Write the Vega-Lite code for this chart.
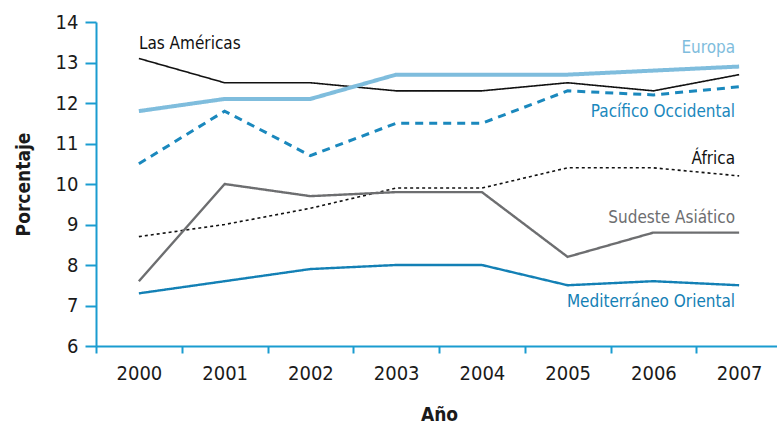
{
  "$schema": "https://vega.github.io/schema/vega-lite/v6.json",
  "width": 686,
  "height": 324,
  "autosize": {"type": "none"},
  "padding": {"left": 96, "top": 22, "right": 0, "bottom": 83},
  "background": "white",
  "config": {
    "view": {"stroke": null},
    "font": "DejaVu Sans Condensed",
    "axis": {"labelFont": "DejaVu Sans Condensed", "titleFont": "DejaVu Sans Condensed"}
  },
  "datasets": {
    "series": [
      {"year": "2000", "region": "Las Américas", "value": 13.1},
      {"year": "2001", "region": "Las Américas", "value": 12.5},
      {"year": "2002", "region": "Las Américas", "value": 12.5},
      {"year": "2003", "region": "Las Américas", "value": 12.3},
      {"year": "2004", "region": "Las Américas", "value": 12.3},
      {"year": "2005", "region": "Las Américas", "value": 12.5},
      {"year": "2006", "region": "Las Américas", "value": 12.3},
      {"year": "2007", "region": "Las Américas", "value": 12.7},
      {"year": "2000", "region": "Europa", "value": 11.8},
      {"year": "2001", "region": "Europa", "value": 12.1},
      {"year": "2002", "region": "Europa", "value": 12.1},
      {"year": "2003", "region": "Europa", "value": 12.7},
      {"year": "2004", "region": "Europa", "value": 12.7},
      {"year": "2005", "region": "Europa", "value": 12.7},
      {"year": "2006", "region": "Europa", "value": 12.8},
      {"year": "2007", "region": "Europa", "value": 12.9},
      {"year": "2000", "region": "Pacífico Occidental", "value": 10.5},
      {"year": "2001", "region": "Pacífico Occidental", "value": 11.8},
      {"year": "2002", "region": "Pacífico Occidental", "value": 10.7},
      {"year": "2003", "region": "Pacífico Occidental", "value": 11.5},
      {"year": "2004", "region": "Pacífico Occidental", "value": 11.5},
      {"year": "2005", "region": "Pacífico Occidental", "value": 12.3},
      {"year": "2006", "region": "Pacífico Occidental", "value": 12.2},
      {"year": "2007", "region": "Pacífico Occidental", "value": 12.4},
      {"year": "2000", "region": "África", "value": 8.7},
      {"year": "2001", "region": "África", "value": 9.0},
      {"year": "2002", "region": "África", "value": 9.4},
      {"year": "2003", "region": "África", "value": 9.9},
      {"year": "2004", "region": "África", "value": 9.9},
      {"year": "2005", "region": "África", "value": 10.4},
      {"year": "2006", "region": "África", "value": 10.4},
      {"year": "2007", "region": "África", "value": 10.2},
      {"year": "2000", "region": "Sudeste Asiático", "value": 7.6},
      {"year": "2001", "region": "Sudeste Asiático", "value": 10.0},
      {"year": "2002", "region": "Sudeste Asiático", "value": 9.7},
      {"year": "2003", "region": "Sudeste Asiático", "value": 9.8},
      {"year": "2004", "region": "Sudeste Asiático", "value": 9.8},
      {"year": "2005", "region": "Sudeste Asiático", "value": 8.2},
      {"year": "2006", "region": "Sudeste Asiático", "value": 8.8},
      {"year": "2007", "region": "Sudeste Asiático", "value": 8.8},
      {"year": "2000", "region": "Mediterráneo Oriental", "value": 7.3},
      {"year": "2001", "region": "Mediterráneo Oriental", "value": 7.6},
      {"year": "2002", "region": "Mediterráneo Oriental", "value": 7.9},
      {"year": "2003", "region": "Mediterráneo Oriental", "value": 8.0},
      {"year": "2004", "region": "Mediterráneo Oriental", "value": 8.0},
      {"year": "2005", "region": "Mediterráneo Oriental", "value": 7.5},
      {"year": "2006", "region": "Mediterráneo Oriental", "value": 7.6},
      {"year": "2007", "region": "Mediterráneo Oriental", "value": 7.5}
    ],
    "labels": [
      {"year": "2000", "region": "Las Américas", "value": 13.45, "side": "left"},
      {"year": "2007", "region": "Europa", "value": 13.37, "side": "right"},
      {"year": "2007", "region": "Pacífico Occidental", "value": 11.78, "side": "right"},
      {"year": "2007", "region": "África", "value": 10.62, "side": "right"},
      {"year": "2007", "region": "Sudeste Asiático", "value": 9.15, "side": "right"},
      {"year": "2007", "region": "Mediterráneo Oriental", "value": 7.08, "side": "right"}
    ]
  },
  "encoding": {
    "x": {
      "field": "year", "type": "ordinal",
      "scale": {"type": "band", "paddingInner": 0, "paddingOuter": 0},
      "axis": {
        "title": "Año", "tickBand": "extent", "labelAngle": 0,
        "domainColor": "#1a9cd0", "tickColor": "#1a9cd0", "domainWidth": 2, "tickWidth": 2,
        "tickSize": 7, "labelPadding": 10, "labelFontSize": 20, "labelColor": "#1a1a1a",
        "titleFontSize": 19, "titleFontWeight": "bold", "titleColor": "#1a1a1a", "titlePadding": 22,
        "grid": false
      }
    },
    "y": {
      "field": "value", "type": "quantitative",
      "scale": {"domain": [6, 14], "nice": false, "zero": false},
      "axis": {
        "title": "Porcentaje", "values": [6, 7, 8, 9, 10, 11, 12, 13, 14],
        "domainColor": "#1a9cd0", "tickColor": "#1a9cd0", "domainWidth": 2, "tickWidth": 2,
        "tickSize": 11, "labelPadding": 7, "labelFontSize": 20, "labelColor": "#1a1a1a",
        "titleFontSize": 19, "titleFontWeight": "bold", "titleColor": "#1a1a1a", "titlePadding": 22,
        "grid": false
      }
    }
  },
  "layer": [
    {
      "data": {"name": "series"},
      "mark": {"type": "line", "clip": false},
      "encoding": {
        "detail": {"field": "region"},
        "color": {
          "field": "region", "type": "nominal", "legend": null,
          "scale": {
            "domain": ["Las Américas", "Europa", "Pacífico Occidental", "África", "Sudeste Asiático", "Mediterráneo Oriental"],
            "range": ["#111111", "#7fbddd", "#1a88bd", "#111111", "#6d6e70", "#1380b5"]
          }
        },
        "strokeDash": {
          "field": "region", "type": "nominal", "legend": null,
          "scale": {
            "domain": ["Las Américas", "Europa", "Pacífico Occidental", "África", "Sudeste Asiático", "Mediterráneo Oriental"],
            "range": [[1, 0], [1, 0], [8, 6], [3, 3], [1, 0], [1, 0]]
          }
        },
        "strokeWidth": {
          "field": "region", "type": "nominal", "legend": null,
          "scale": {
            "type": "ordinal",
            "domain": ["Las Américas", "Europa", "Pacífico Occidental", "África", "Sudeste Asiático", "Mediterráneo Oriental"],
            "range": [1.6, 4, 3, 1.6, 2.4, 2.4]
          }
        }
      }
    },
    {
      "data": {"name": "labels"},
      "transform": [{"filter": "datum.side === 'left'"}],
      "mark": {"type": "text", "align": "left", "baseline": "middle", "fontSize": 17},
      "encoding": {
        "text": {"field": "region"},
        "color": {"field": "region", "type": "nominal", "legend": null}
      }
    },
    {
      "data": {"name": "labels"},
      "transform": [{"filter": "datum.side === 'right'"}],
      "mark": {"type": "text", "align": "right", "baseline": "middle", "fontSize": 17, "dx": -4},
      "encoding": {
        "text": {"field": "region"},
        "color": {"field": "region", "type": "nominal", "legend": null}
      }
    }
  ]
}
